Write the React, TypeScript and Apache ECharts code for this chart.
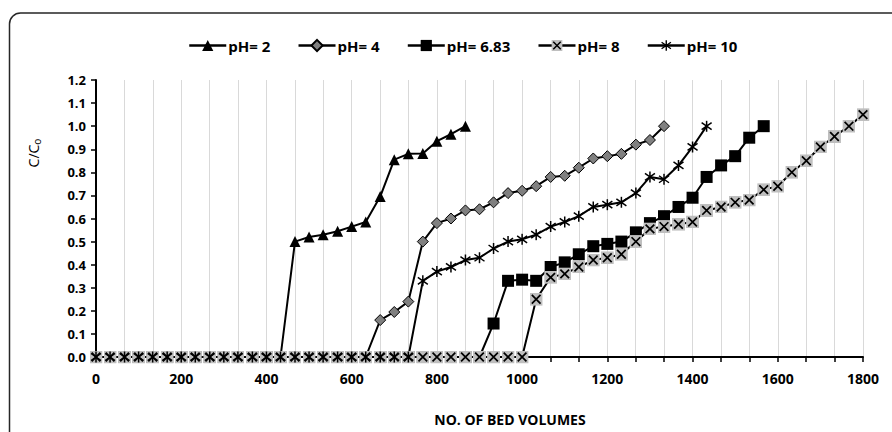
import React, { useEffect, useRef } from "react";
import * as echarts from "echarts";

// Bed volumes (x) shared by all series
const bedVolumes = [
  0, 33, 67, 100, 133, 167, 200, 233, 267, 300, 333, 367, 400, 433, 467, 500, 533, 567, 600, 633,
  667, 700, 733, 767, 800, 833, 867, 900, 933, 967, 1000, 1033, 1067, 1100, 1133, 1167, 1200, 1233,
  1267, 1300, 1333, 1367, 1400, 1433, 1467, 1500, 1533, 1567, 1600, 1633, 1667, 1700, 1733, 1767, 1800,
];

const pH2 = [
  0, 0, 0, 0, 0, 0, 0, 0, 0, 0, 0, 0, 0, 0,
  0.5, 0.52, 0.53, 0.545, 0.565, 0.585, 0.695, 0.855, 0.88, 0.882, 0.935, 0.965, 1.0,
];
const pH4 = [
  0, 0, 0, 0, 0, 0, 0, 0, 0, 0, 0, 0, 0, 0, 0, 0, 0, 0, 0, 0,
  0.16, 0.195, 0.24, 0.5, 0.58, 0.6, 0.635, 0.64, 0.67, 0.71, 0.72, 0.74, 0.78, 0.785, 0.82, 0.86,
  0.87, 0.88, 0.92, 0.94, 1.0,
];
const pH683 = [
  0, 0, 0, 0, 0, 0, 0, 0, 0, 0, 0, 0, 0, 0, 0, 0, 0, 0, 0, 0, 0, 0, 0, 0, 0, 0, 0, 0,
  0.145, 0.33, 0.335, 0.33, 0.39, 0.41, 0.445, 0.48, 0.49, 0.5, 0.54, 0.58, 0.61, 0.65, 0.69, 0.78,
  0.83, 0.87, 0.95, 1.0,
];
const pH8 = [
  0, 0, 0, 0, 0, 0, 0, 0, 0, 0, 0, 0, 0, 0, 0, 0, 0, 0, 0, 0, 0, 0, 0, 0, 0, 0, 0, 0, 0, 0, 0,
  0.25, 0.345, 0.36, 0.39, 0.42, 0.43, 0.445, 0.5, 0.555, 0.565, 0.575, 0.585, 0.635, 0.65, 0.67,
  0.68, 0.725, 0.74, 0.8, 0.85, 0.91, 0.955, 1.0, 1.05,
];
const pH10 = [
  0, 0, 0, 0, 0, 0, 0, 0, 0, 0, 0, 0, 0, 0, 0, 0, 0, 0, 0, 0, 0, 0, 0,
  0.33, 0.37, 0.39, 0.42, 0.43, 0.47, 0.5, 0.51, 0.53, 0.565, 0.585, 0.61, 0.65, 0.66, 0.67, 0.71,
  0.78, 0.77, 0.83, 0.91, 1.0,
];

const seriesNames = ["pH= 2", "pH= 4", "pH= 6.83", "pH= 8", "pH= 10"];

const FONT = "'Open Sans', 'Noto Sans', sans-serif";

const svgUri = (svg: string) => "image://data:image/svg+xml;charset=utf-8," + encodeURIComponent(svg);

const crossSymbol = svgUri(
  "<svg xmlns='http://www.w3.org/2000/svg' width='12' height='12' viewBox='0 0 12 12'>" +
    "<rect x='0' y='0' width='12' height='12' fill='#bfbfbf'/>" +
    "<path d='M2 2L10 10M10 2L2 10' stroke='#000' stroke-width='1.6' fill='none'/></svg>"
);
const starSymbol = svgUri(
  "<svg xmlns='http://www.w3.org/2000/svg' width='12' height='12' viewBox='0 0 12 12'>" +
    "<path d='M6 0.5V11.5M1 2.5L11 9.5M11 2.5L1 9.5' stroke='#000' stroke-width='1.5' fill='none'/></svg>"
);

const toPoints = (vals: number[]) => vals.map((v, i) => [bedVolumes[i], v]);

export default function App() {
  const ref = useRef<HTMLDivElement>(null);

  useEffect(() => {
    if (!ref.current) return;
    const chart = echarts.init(ref.current, undefined, { renderer: "svg" });

    const base = {
      type: "line" as const,
      lineStyle: { color: "#000", width: 2 },
      showSymbol: true,
      z: 2,
    };

    chart.setOption({
      animation: false,
      backgroundColor: "#fff",
      textStyle: { fontFamily: FONT, color: "#000" },
      grid: { left: 96, right: 29, top: 80, bottom: 75 },
      legend: {
        top: 38,
        left: 188,
        padding: 0,
        itemWidth: 37,
        itemHeight: 14,
        itemGap: 27,
        lineStyle: { width: 2.5 },
        textStyle: { fontFamily: FONT, fontWeight: "bold", fontSize: 15, color: "#000", padding: [0, 0, 0, -3] },
        data: seriesNames,
      },
      xAxis: {
        type: "value",
        min: 0,
        max: 1800,
        interval: 200,
        axisLine: { lineStyle: { color: "#000", width: 2 } },
        axisTick: { show: true, length: 5, lineStyle: { color: "#000", width: 1.5 } },
        minorTick: { show: true, splitNumber: 3, length: 5, lineStyle: { color: "#000", width: 1.5 } },
        splitLine: { show: true, lineStyle: { color: "#d9d9d9", width: 1 } },
        minorSplitLine: { show: true, lineStyle: { color: "#d9d9d9", width: 1 } },
        axisLabel: {
          fontFamily: FONT,
          fontWeight: "bold",
          fontSize: 14,
          color: "#000",
          margin: 14,
          formatter: (v: number) => String(Math.round(v)),
        },
      },
      yAxis: {
        type: "value",
        min: 0,
        max: 1.2,
        interval: 0.1,
        axisLine: { show: true, lineStyle: { color: "#000", width: 2 } },
        axisTick: { show: true, length: 5, lineStyle: { color: "#000", width: 1.5 } },
        splitLine: { show: false },
        axisLabel: {
          fontFamily: FONT,
          fontWeight: "bold",
          fontSize: 13,
          color: "#000",
          margin: 10,
          formatter: (v: number) => v.toFixed(1),
        },
      },
      graphic: [
        {
          type: "rect",
          shape: { x: 9.5, y: 13, width: 900, height: 450, r: 11 },
          style: { fill: "none", stroke: "#262626", lineWidth: 1.5 },
          silent: true,
          z: -1,
        },
        {
          type: "text",
          x: 33,
          y: 153,
          rotation: Math.PI / 2,
          style: {
            text: "C/C{s|o}",
            fill: "#000",
            fontSize: 14,
            fontFamily: FONT,
            align: "center",
            verticalAlign: "middle",
            rich: {
              s: { fontSize: 10, fontFamily: FONT, fill: "#000", verticalAlign: "bottom", padding: [7, 0, 0, 0] },
            },
          },
        },
        {
          type: "text",
          x: 510,
          y: 419,
          style: {
            text: "NO. OF BED VOLUMES",
            fill: "#000",
            fontSize: 14,
            fontWeight: "bold",
            fontFamily: FONT,
            align: "center",
            verticalAlign: "middle",
          },
        },
      ],
      series: [
        {
          ...base,
          name: seriesNames[0],
          data: toPoints(pH2),
          symbol: "triangle",
          symbolSize: 11,
          itemStyle: { color: "#000" },
        },
        {
          ...base,
          name: seriesNames[1],
          data: toPoints(pH4),
          symbol: "diamond",
          symbolSize: 11,
          itemStyle: { color: "#808080", borderColor: "#000", borderWidth: 1 },
        },
        {
          ...base,
          name: seriesNames[2],
          data: toPoints(pH683),
          symbol: "rect",
          symbolSize: 12,
          itemStyle: { color: "#000" },
        },
        {
          ...base,
          name: seriesNames[3],
          data: toPoints(pH8),
          symbol: crossSymbol,
          symbolSize: 13,
          itemStyle: { color: "#000" },
        },
        {
          ...base,
          name: seriesNames[4],
          data: toPoints(pH10),
          symbol: starSymbol,
          symbolSize: 12,
          itemStyle: { color: "#000" },
        },
      ],
    });

    return () => chart.dispose();
  }, []);

  return (
    <div
      ref={ref}
      style={{ position: "absolute", left: 0, top: 0, width: 892, height: 432 }}
    />
  );
}
